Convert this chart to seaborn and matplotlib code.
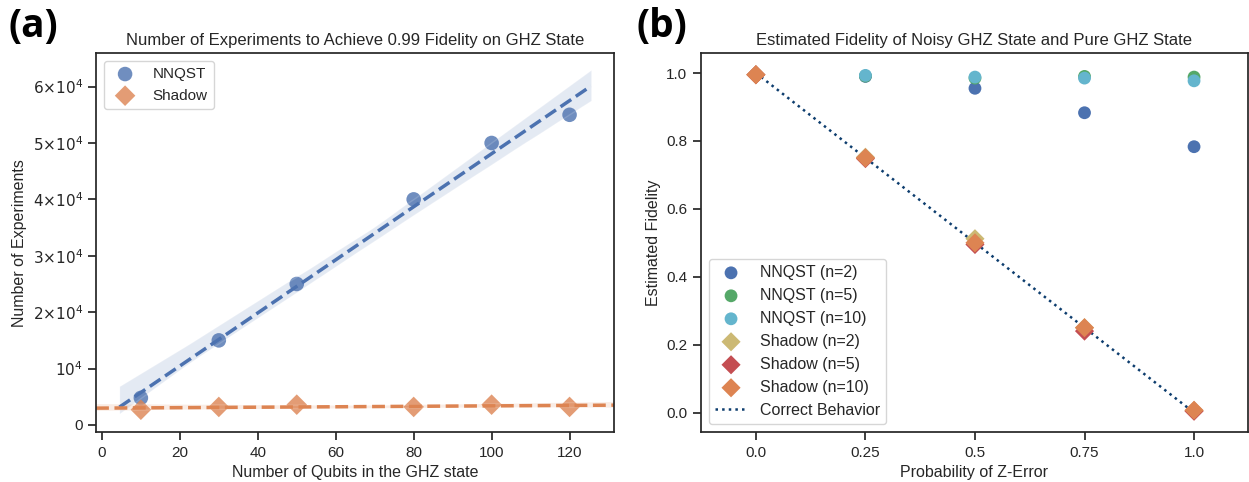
import matplotlib.pyplot as plt
import matplotlib.ticker as mticker
import numpy as np
import pandas as pd
import seaborn as sns

# ── datos panel (a): experimentos necesarios para fidelidad 0.99 ──
qubits = [10, 30, 50, 80, 100, 120]
exp_nnqst = [4800, 15000, 25000, 40000, 50000, 55000]
exp_shadow = [2700, 3200, 3600, 3200, 3600, 3200]

# ── datos panel (b): fidelidad estimada vs probabilidad de error Z ──
p_z = [0.0, 0.25, 0.5, 0.75, 1.0]
p_z_labels = ['0.0', '0.25', '0.5', '0.75', '1.0']
fid_nnqst_2 = [0.995, 0.990, 0.955, 0.883, 0.783]
fid_nnqst_5 = [0.995, 0.991, 0.985, 0.990, 0.988]
fid_nnqst_10 = [0.995, 0.993, 0.988, 0.985, 0.977]
fid_shadow_2 = [0.995, 0.752, 0.512, 0.250, 0.006]
fid_shadow_5 = [0.995, 0.748, 0.495, 0.240, 0.004]
fid_shadow_10 = [0.995, 0.750, 0.500, 0.250, 0.007]
correct_x = [0.0, 1.0]
correct_y = [1.0, 0.0]

sns.set_theme(style='ticks', context='notebook')
plt.rcParams['font.family'] = ['Liberation Sans', 'DejaVu Sans']

deep = sns.color_palette('deep')

fig = plt.figure(figsize=(12.49, 4.82), dpi=100)
ax_a = fig.add_axes([0.0769, 0.1031, 0.4150, 0.7863])
ax_b = fig.add_axes([0.5610, 0.1031, 0.4378, 0.7863])

# ── panel (a) ──
df_a = pd.DataFrame({'qubits': qubits, 'nnqst': exp_nnqst, 'shadow': exp_shadow})
sns.regplot(data=df_a, x='qubits', y='nnqst', ax=ax_a, truncate=False, seed=0,
            color=deep[0], marker='o', label='NNQST',
            scatter_kws={'s': 110, 'alpha': 0.8, 'edgecolors': 'none'},
            line_kws={'ls': '--', 'lw': 2.5})
ax_a.set_xlim(-1.5, 131.5)
sns.regplot(data=df_a, x='qubits', y='shadow', ax=ax_a, truncate=False, seed=0,
            color=deep[1], marker='D', label='Shadow',
            scatter_kws={'s': 110, 'alpha': 0.8, 'edgecolors': 'none'},
            line_kws={'ls': '--', 'lw': 2.5})
ax_a.set_xlim(-1.5, 131.5)
ax_a.set_ylim(-1300, 65900)
ax_a.set_xticks([0, 20, 40, 60, 80, 100, 120])
ax_a.set_yticks([0, 10000, 20000, 30000, 40000, 50000, 60000])


def sci_fmt(v, pos):
    if v == 0:
        return '0'
    m = int(round(v / 1e4))
    if m == 1:
        return r'$10^{4}$'
    return rf'${m}{{\times}}10^{{4}}$'


ax_a.yaxis.set_major_formatter(mticker.FuncFormatter(sci_fmt))
ax_a.set_title('Number of Experiments to Achieve 0.99 Fidelity on GHZ State', fontsize=12)
ax_a.set_xlabel('Number of Qubits in the GHZ state', fontsize=11.5)
ax_a.set_ylabel('Number of Experiments', fontsize=11.5)
ax_a.tick_params(labelsize=11)
ax_a.legend(loc='upper left', fontsize=11)

# ── panel (b) ──
ax_b.plot(correct_x, correct_y, ls=':', color='#0d3d6e', lw=1.8,
          label='Correct Behavior', zorder=1)
series_b = [
    (fid_nnqst_2, 'NNQST (n=2)', deep[0], 'o'),
    (fid_nnqst_5, 'NNQST (n=5)', deep[2], 'o'),
    (fid_nnqst_10, 'NNQST (n=10)', deep[9], 'o'),
    (fid_shadow_2, 'Shadow (n=2)', deep[8], 'D'),
    (fid_shadow_5, 'Shadow (n=5)', deep[3], 'D'),
    (fid_shadow_10, 'Shadow (n=10)', deep[1], 'D'),
]
for vals, lab, col, mk in series_b:
    sns.scatterplot(x=p_z, y=vals, ax=ax_b, color=col, marker=mk,
                    s=85 if mk == 'o' else 95, edgecolor='none', label=lab, zorder=3)

ax_b.set_xlim(-0.126, 1.122)
ax_b.set_ylim(-0.058, 1.058)
ax_b.set_xticks(p_z)
ax_b.set_xticklabels(p_z_labels)
ax_b.set_yticks([0.0, 0.2, 0.4, 0.6, 0.8, 1.0])
ax_b.set_title('Estimated Fidelity of Noisy GHZ State and Pure GHZ State', fontsize=12)
ax_b.set_xlabel('Probability of Z-Error', fontsize=11.5)
ax_b.set_ylabel('Estimated Fidelity', fontsize=11.5)
ax_b.tick_params(labelsize=11)
handles, labels = ax_b.get_legend_handles_labels()
order = [labels.index(l) for l in [s[1] for s in series_b] + ['Correct Behavior']]
ax_b.legend([handles[i] for i in order], [labels[i] for i in order],
            loc='lower left', fontsize=11.5)

# etiquetas de panel
fig.text(0.007, 0.985, '(a)', fontsize=28, fontweight='bold', va='top', color='black',
         family=['Open Sans', 'DejaVu Sans'])
fig.text(0.510, 0.985, '(b)', fontsize=28, fontweight='bold', va='top', color='black',
         family=['Open Sans', 'DejaVu Sans'])

fig.savefig('out.png', dpi=100, facecolor='white')
